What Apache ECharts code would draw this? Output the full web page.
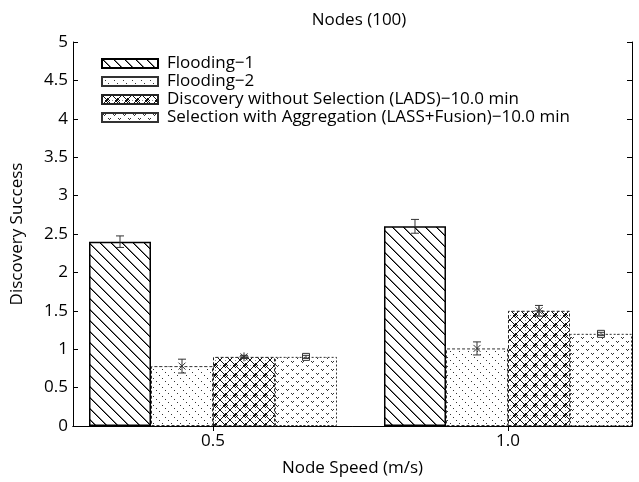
<!DOCTYPE html>
<html>
<head>
<meta charset="utf-8">
<script src="https://cdn.jsdelivr.net/npm/echarts@6/dist/echarts.min.js"></script>
<style>
  html, body { margin: 0; padding: 0; background: #fff; }
  #chart { width: 639px; height: 482px; }
</style>
</head>
<body>
<div id="chart"></div>
<script>
// data
const speeds = [0.5, 1.0];
const seriesNames = [
  "Flooding\u22121",
  "Flooding\u22122",
  "Discovery without Selection (LADS)\u221210.0 min",
  "Selection with Aggregation (LASS+Fusion)\u221210.0 min"
];
const flooding1 = [2.4, 2.6];
const flooding1Err = [0.075, 0.09];
const flooding2 = [0.78, 1.01];
const flooding2Err = [0.09, 0.085];
const lads = [0.9, 1.5];
const ladsErr = [0.02, 0.07];
const lass = [0.9, 1.2];
const lassErr = [0.02, 0.02];
const yTicks = [0, 5, 0.5];

const FONT = "Open Sans";
const BAR_W = 62;

// hatch tiles
function tile(w, h, draw) {
  const c = document.createElement("canvas");
  c.width = w; c.height = h;
  const ctx = c.getContext("2d");
  ctx.fillStyle = "#fff";
  ctx.fillRect(0, 0, w, h);
  draw(ctx);
  return c;
}
const pat1 = tile(11, 11, function (ctx) {
  ctx.fillStyle = "#000";
  for (let i = 0; i < 11; i++) ctx.fillRect(i, i, 1, 1);
  ctx.fillStyle = "#777";
  for (let i = 0; i < 11; i++) ctx.fillRect((i + 1) % 11, i, 1, 1);
});
const pat2 = tile(9, 9, function (ctx) {
  ctx.fillStyle = "#333";
  for (let i = 0; i < 9; i += 3) ctx.fillRect(i, i, 1, 1);
});
const pat3 = tile(10, 10, function (ctx) {
  ctx.fillStyle = "#111";
  for (let i = 0; i < 10; i++) {
    ctx.fillRect(i, i, 1, 1);
    ctx.fillRect(9 - i, i, 1, 1);
  }
  // small diamond in the middle of the cell
  ctx.fillRect(5, 3, 1, 1); ctx.fillRect(4, 4, 1, 1); ctx.fillRect(6, 4, 1, 1);
  ctx.fillRect(3, 5, 1, 1); ctx.fillRect(7, 5, 1, 1);
  ctx.fillRect(4, 6, 1, 1); ctx.fillRect(6, 6, 1, 1); ctx.fillRect(5, 7, 1, 1);
  ctx.fillStyle = "#888";
  ctx.fillRect(0, 5, 1, 1); ctx.fillRect(5, 0, 1, 1);
});
const pat4 = tile(10, 8, function (ctx) {
  ctx.fillStyle = "#333";
  // little v marks, staggered rows
  ctx.fillRect(1, 1, 1, 1); ctx.fillRect(3, 1, 1, 1); ctx.fillRect(2, 2, 1, 1);
  ctx.fillRect(6, 5, 1, 1); ctx.fillRect(8, 5, 1, 1); ctx.fillRect(7, 6, 1, 1);
});

const values = [flooding1, flooding2, lads, lass];
const errors = [flooding1Err, flooding2Err, ladsErr, lassErr];
const patterns = [pat1, pat2, pat3, pat4];
const borders = [
  { borderColor: "#000", borderWidth: 1.5, borderType: "solid" },
  { borderColor: "#333", borderWidth: 1, borderType: [3, 2] },
  { borderColor: "#222", borderWidth: 1, borderType: [3, 2] },
  { borderColor: "#333", borderWidth: 1, borderType: [2, 2] }
];
const markers = ["none", "x", "star", "square"];

const barSeries = values.map(function (vals, i) {
  return {
    name: seriesNames[i],
    type: "bar",
    barWidth: BAR_W,
    barGap: "0%",
    xAxisIndex: 0,
    yAxisIndex: 0,
    data: speeds.map(function (s, j) { return [s, vals[j]]; }),
    itemStyle: Object.assign({ color: { image: patterns[i], repeat: "repeat" } }, borders[i]),
    emphasis: { disabled: true },
    z: 2
  };
});

// error bars drawn on top of the bars
const errData = [];
values.forEach(function (vals, i) {
  speeds.forEach(function (s, j) {
    errData.push([s, vals[j], errors[i][j], i]);
  });
});

const errSeries = {
  type: "custom",
  silent: true,
  xAxisIndex: 0,
  yAxisIndex: 0,
  z: 5,
  data: errData,
  renderItem: function (params, api) {
    const s = api.value(0), v = api.value(1), e = api.value(2), k = api.value(3);
    const mid = api.coord([s, v]);
    const x = mid[0] + (k - 1.5) * BAR_W;
    const yt = api.coord([s, v + e])[1];
    const yb = api.coord([s, v - e])[1];
    const st = { stroke: "#333", lineWidth: 1 };
    const kids = [
      { type: "line", shape: { x1: x, y1: yt, x2: x, y2: yb }, style: st },
      { type: "line", shape: { x1: x - 4, y1: yt, x2: x + 4, y2: yt }, style: st },
      { type: "line", shape: { x1: x - 4, y1: yb, x2: x + 4, y2: yb }, style: st }
    ];
    const m = markers[k], y = mid[1], r = 3.5;
    if (m === "x" || m === "star") {
      kids.push({ type: "line", shape: { x1: x - r, y1: y - r, x2: x + r, y2: y + r }, style: st });
      kids.push({ type: "line", shape: { x1: x - r, y1: y + r, x2: x + r, y2: y - r }, style: st });
    }
    if (m === "star") {
      kids.push({ type: "line", shape: { x1: x - r - 1, y1: y, x2: x + r + 1, y2: y }, style: st });
      kids.push({ type: "line", shape: { x1: x, y1: y - r - 1, x2: x, y2: y + r + 1 }, style: st });
    }
    if (m === "square") {
      kids.push({ type: "rect", shape: { x: x - r, y: y - r, width: 2 * r, height: 2 * r },
        style: { stroke: "#333", fill: "none", lineWidth: 1 } });
    }
    return { type: "group", children: kids };
  }
};

const chart = echarts.init(document.getElementById("chart"), null, { renderer: "canvas" });

const option = {
  animation: false,
  backgroundColor: "#fff",
  textStyle: { fontFamily: FONT, color: "#000" },
  title: {
    text: "Nodes (100)",
    left: 354,
    textAlign: "center",
    top: 7,
    textStyle: { fontFamily: FONT, fontSize: 17, fontWeight: "normal", color: "#000" }
  },
  legend: {
    orient: "vertical",
    left: 96,
    top: 50,
    itemWidth: 56,
    itemHeight: 9,
    itemGap: 1,
    icon: "rect",
    data: seriesNames,
    textStyle: { fontFamily: FONT, fontSize: 17, color: "#000", padding: [0, 0, 0, 4] },
    selectedMode: false
  },
  grid: { left: 73, right: 7, top: 42, bottom: 51 },
  xAxis: [
    {
      type: "value",
      min: 0.2627,
      max: 1.2102,
      name: "Node Speed (m/s)",
      nameLocation: "middle",
      nameGap: 34,
      nameTextStyle: { fontFamily: FONT, fontSize: 17, color: "#000" },
      splitLine: { show: false },
      axisLine: { lineStyle: { color: "#000", width: 1 } },
      axisTick: { inside: true, length: 5, customValues: speeds, lineStyle: { color: "#000" } },
      axisLabel: {
        customValues: speeds,
        formatter: function (v) { return Number(v).toFixed(1); },
        fontFamily: FONT, fontSize: 17, color: "#000", margin: 7
      }
    },
    {
      type: "value",
      position: "top",
      min: 0.2627,
      max: 1.2102,
      splitLine: { show: false },
      axisLine: { lineStyle: { color: "#000", width: 1 } },
      axisTick: { inside: true, length: 5, customValues: speeds, lineStyle: { color: "#000" } },
      axisLabel: { show: false }
    }
  ],
  yAxis: [
    {
      type: "value",
      min: yTicks[0],
      max: yTicks[1],
      interval: yTicks[2],
      name: "Discovery Success",
      nameLocation: "middle",
      nameGap: 47,
      nameTextStyle: { fontFamily: FONT, fontSize: 17, color: "#000" },
      splitLine: { show: false },
      axisLine: { show: true, lineStyle: { color: "#000", width: 1 } },
      axisTick: { show: true, inside: true, length: 5, lineStyle: { color: "#000" } },
      axisLabel: { fontFamily: FONT, fontSize: 17, color: "#000", margin: 5 }
    },
    {
      type: "value",
      position: "right",
      min: yTicks[0],
      max: yTicks[1],
      interval: yTicks[2],
      splitLine: { show: false },
      axisLine: { show: true, lineStyle: { color: "#000", width: 1 } },
      axisTick: { show: true, inside: true, length: 5, lineStyle: { color: "#000" } },
      axisLabel: { show: false }
    }
  ],
  series: barSeries.concat([errSeries])
};

chart.setOption(option);
</script>
</body>
</html>
